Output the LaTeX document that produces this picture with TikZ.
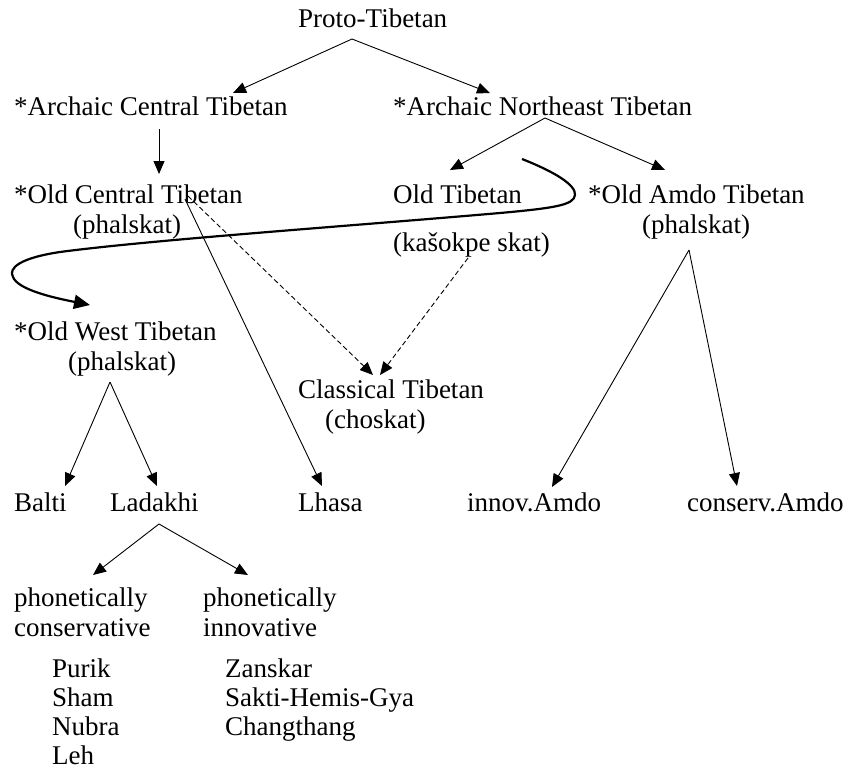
\documentclass[tikz,border=0pt]{standalone}
\usepackage{fontspec}
\setmainfont{Liberation Serif}
\usetikzlibrary{arrows.meta,calc}
\newcommand{\langfont}{\fontsize{27}{30}\selectfont}

\begin{document}
\begin{tikzpicture}[x=1pt,y=-1pt,
every node/.style={font=\langfont,inner sep=0pt,anchor=base west},
arr/.style={-{Triangle[length=13pt,width=11pt]},line width=0.9pt},
darr/.style={arr,dash pattern=on 5pt off 3pt},
bigarr/.style={-{Triangle[length=16pt,width=14pt]},line width=2.2pt}
]
\useasboundingbox (0,0) rectangle (844,769);

\node (proto) at (298,27) {Proto-Tibetan};
\node (act) at (14,115) {*Archaic Central Tibetan};
\node (ane) at (393,115) {*Archaic Northeast Tibetan};

\node (oct)  at (14,203) {*Old Central Tibetan};
\node (octp) at (73,233) {(phalskat)};
\node (ot)   at (393,203) {Old Tibetan};
\node (otp)  at (393,251) {(kašokpe skat)};
\node (oat)  at (588,203) {*Old Amdo Tibetan};
\node (oatp) at (642,233) {(phalskat)};

\node (owt)  at (14,340) {*Old West Tibetan};
\node (owtp) at (68,370) {(phalskat)};
\node (ct)   at (298,398) {Classical Tibetan};
\node (ctp)  at (325,428) {(choskat)};

\node (balti)   at (14,511)  {Balti};
\node (ladakhi) at (110,511) {Ladakhi};
\node (lhasa)   at (298,511) {Lhasa};
\node (innov)   at (467,511) {innov.Amdo};
\node (conserv) at (687,511) {conserv.Amdo};

\node (pc1) at (14,606)  {phonetically};
\node (pc2) at (14,636)  {conservative};
\node (pi1) at (203,606) {phonetically};
\node (pi2) at (203,636) {innovative};

% dialect lists
\node (purik) at (52,677) {Purik};
\node (sham)  at (52,706) {Sham};
\node (nubra) at (52,735) {Nubra};
\node (leh)   at (52,764) {Leh};
\node (zanskar)    at (225,677) {Zanskar};
\node (sakti)      at (225,706) {Sakti-Hemis-Gya};
\node (changthang) at (225,735) {Changthang};

\draw[arr] ($(proto.base west)+(54,12)$) -- ($(act.base west)+(219,-22)$);
\draw[arr] ($(proto.base west)+(54,12)$) -- ($(ane.base west)+(97,-22)$);
\draw[arr] ($(act.base west)+(145,14)$) -- ($(oct.base west)+(145,-29)$);
\draw[arr] ($(ane.base west)+(152,3)$) -- ($(ot.base west)+(57,-33)$);
\draw[arr] ($(ane.base west)+(152,3)$) -- ($(oat.base west)+(77,-33)$);

% borrowing into Old West Tibetan
\draw[bigarr] ($(ot.base west)+(129,-44)$)
  .. controls (555,172) and (576,185) .. (575,195)
  .. controls (574,205) and (555,208) .. (500,213)
  .. controls (350,226) and (150,240) .. (60,252)
  .. controls (20,258) and (8,268) .. (13,277)
  .. controls (18,290) and (55,298) .. ($(owt.base west)+(76,-35)$);

\draw[arr] ($(oct.base west)+(171,-4)$) -- ($(lhasa.base west)+(24,-25)$);
\draw[darr] ($(oct.base west)+(174,-7)$) -- ($(ct.base west)+(75,-23)$);
\draw[darr] ($(otp.base west)+(75,7)$) -- ($(ct.base west)+(82,-23)$);

\draw[arr] ($(owtp.base west)+(42,12)$) -- ($(balti.base west)+(51,-25)$);
\draw[arr] ($(owtp.base west)+(42,12)$) -- ($(ladakhi.base west)+(47,-25)$);
\draw[arr] ($(oatp.base west)+(47,17)$) -- ($(innov.base west)+(85,-24)$);
\draw[arr] ($(oatp.base west)+(47,17)$) -- ($(conserv.base west)+(50,-25)$);
\draw[arr] ($(ladakhi.base west)+(49,13)$) -- ($(pc1.base west)+(79,-31)$);
\draw[arr] ($(ladakhi.base west)+(49,13)$) -- ($(pi1.base west)+(45,-31)$);
\end{tikzpicture}
\end{document}
